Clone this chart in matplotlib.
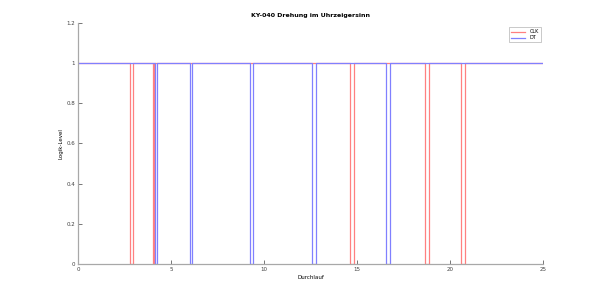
import matplotlib
matplotlib.use("Agg")
import matplotlib.pyplot as plt

# pulse edges (Durchlauf units): (start, end) of each low phase
clk_low = [(2.79, 2.95), (4.03, 4.11), (14.64, 14.85), (18.66, 18.86), (20.60, 20.81)]
dt_low = [(4.14, 4.27), (6.00, 6.15), (9.26, 9.41), (12.59, 12.77), (16.57, 16.75)]
x_start, x_end = 0, 25
high, low = 1, 0

x_ticks = [0, 5, 10, 15, 20, 25]
y_ticks = [0, 0.2, 0.4, 0.6, 0.8, 1, 1.2]
y_labels = ["0", "0.2", "0.4", "0.6", "0.8", "1", "1.2"]


def square_wave(lows):
    xs, ys = [x_start], [high]
    for a, b in lows:
        xs += [a, a, b, b]
        ys += [high, low, low, high]
    xs.append(x_end)
    ys.append(high)
    return xs, ys


fs = 4
fig = plt.figure(figsize=(6, 2.98), dpi=100)
ax = fig.add_axes([0.13, 0.114, 0.775, 0.81])

cx, cy = square_wave(clk_low)
dx, dy = square_wave(dt_low)
ax.plot(cx, cy, color="#ff8080", lw=0.9, label="CLK")
ax.plot(dx, dy, color="#8080ff", lw=0.9, label="DT")

ax.set_xlim(0, 25)
ax.set_ylim(0, 1.2)
ax.set_xticks(x_ticks)
ax.set_xticklabels([str(t) for t in x_ticks])
ax.set_yticks(y_ticks)
ax.set_yticklabels(y_labels)
ax.tick_params(direction="in", length=3, width=0.5, labelsize=fs, colors="#404040", pad=2)
for side in ["top", "right"]:
    ax.spines[side].set_visible(False)
for side in ["left", "bottom"]:
    ax.spines[side].set_color("#a8a8a8")
    ax.spines[side].set_linewidth(0.9)

ax.set_title("KY-040 Drehung im Uhrzeigersinn", fontsize=fs + 0.5, fontweight="bold", pad=4)
ax.set_xlabel("Durchlauf", fontsize=fs, labelpad=2)
ax.set_ylabel("Logik-Level", fontsize=fs, labelpad=2)

leg = ax.legend(loc="upper right", fontsize=3.5, handlelength=3, borderpad=0.4,
                labelspacing=0.2, fancybox=False, bbox_to_anchor=(1.0, 0.99))
leg.get_frame().set_linewidth(0.5)
leg.get_frame().set_edgecolor("#a0a0a0")

plt.savefig("out.png", dpi=100)
